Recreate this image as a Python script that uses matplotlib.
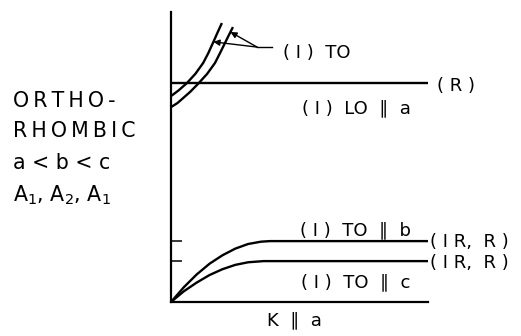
import matplotlib
matplotlib.use('Agg')
import matplotlib.pyplot as plt
import numpy as np

W, H = 521, 336

# dispersion branches (x: wave vector K || a, y: frequency, arbitrary units 0..10)
TO1_X = [0, 0.30, 0.62, 0.95, 1.25, 1.45, 1.63, 1.80, 1.98]
TO1_Y = [7.10, 7.30, 7.55, 7.87, 8.24, 8.58, 8.93, 9.27, 9.62]
TO2_X = [0, 0.25, 0.47, 0.75, 1.05, 1.40, 1.71, 1.90, 2.10, 2.25, 2.41]
TO2_Y = [6.72, 6.86, 7.03, 7.25, 7.52, 7.86, 8.24, 8.57, 8.93, 9.20, 9.48]
LO_X = [0, 10]
LO_Y = [7.55, 7.55]
TOB_X = [0, 0.5, 1.0, 1.5, 2.0, 2.5, 3.0, 3.5, 3.85, 10]
TOB_Y = [0, 0.51, 0.95, 1.32, 1.61, 1.84, 2.00, 2.08, 2.10, 2.10]
TOC_X = [0, 0.5, 1.0, 1.5, 2.0, 2.5, 3.0, 3.6, 10]
TOC_Y = [0, 0.37, 0.67, 0.93, 1.13, 1.28, 1.37, 1.41, 1.41]

# where the "(I) TO" pointers hit the two TO branches
ARROW_Y = [8.97, 9.31]

TS = '\u2009'  # thin space for the wide letter spacing


def spaced(s):
    return TS.join(s)


def px(x, y):
    return x / W, 1 - y / H


fig = plt.figure(figsize=(W / 100, H / 100), dpi=100)
ax = fig.add_axes([171 / W, (H - 302) / H, 257 / W, 290 / H])
ax.set_xlim(0, 10)
ax.set_ylim(0, 10)
for s in ['top', 'right']:
    ax.spines[s].set_visible(False)
for s in ['left', 'bottom']:
    ax.spines[s].set_linewidth(1.6)
ax.set_xticks([])
ax.set_yticks([TOB_Y[-1], TOC_Y[-1]])
ax.set_yticklabels([])
ax.tick_params(axis='y', direction='in', length=8, width=1.1)

kw = dict(color='black', lw=1.7, clip_on=False, solid_capstyle='butt')
ax.plot(TO1_X, TO1_Y, **kw)
ax.plot(TO2_X, TO2_Y, **kw)
ax.plot(LO_X, LO_Y, **kw)
ax.plot(TOB_X, TOB_Y, **kw)
ax.plot(TOC_X, TOC_Y, **kw)

# pointer from the "(I) TO" label to both TO branches
jx, jy = 3.35, 8.79
ax.plot([jx, 3.93], [jy, jy], color='black', lw=1.0, clip_on=False)
for cx, cy, ty in [(TO1_X, TO1_Y, ARROW_Y[0]), (TO2_X, TO2_Y, ARROW_Y[1])]:
    tx = np.interp(ty, cy, cx)
    ax.annotate('', xy=(tx, ty), xytext=(jx, jy),
                arrowprops=dict(arrowstyle='-|>', color='black', lw=1.0,
                                mutation_scale=9, shrinkA=0, shrinkB=0))

fs = 13
lab = dict(fontsize=fs, color='black', va='baseline')
fig.text(*px(283, 58), '( I )  TO', ha='left', **lab)
fig.text(*px(437, 91), '( R )', ha='left', **lab)
fig.text(*px(356, 113), '( I )  LO  \u2225  a', ha='center', **lab)
fig.text(*px(356, 235), '( I )  TO  \u2225  b', ha='center', **lab)
fig.text(*px(356, 287), '( I )  TO  \u2225  c', ha='center', **lab)
fig.text(*px(430, 247), '( I R,  R )', ha='left', **lab)
fig.text(*px(430, 268), '( I R,  R )', ha='left', **lab)
fig.text(*px(294, 325), 'K  \u2225  a', ha='center', **lab)

side = dict(fontsize=14.8, color='black', va='baseline', ha='left')
fig.text(*px(13, 107), spaced('ORTHO-'), **side)
fig.text(*px(13, 137), spaced('RHOMBIC'), **side)
fig.text(*px(13, 169), 'a < b < c', **side)
fig.text(*px(13, 201), r'A$_{1}$, A$_{2}$, A$_{1}$', **side)

fig.savefig('out.png', dpi=100)
